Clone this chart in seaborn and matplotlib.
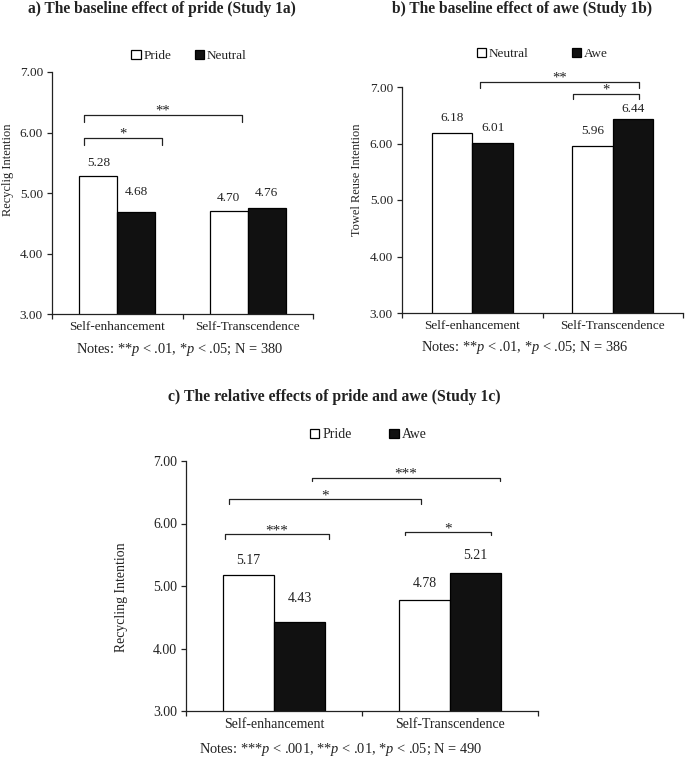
import matplotlib.pyplot as plt
import matplotlib.patches as mpatches
import seaborn as sns
import pandas as pd

categories = ["Self-enhancement", "Self-Transcendence"]

# Study 1a
pride_1a = [5.28, 4.70]
neutral_1a = [4.68, 4.76]
# Study 1b
neutral_1b = [6.18, 5.96]
awe_1b = [6.01, 6.44]
# Study 1c
pride_1c = [5.17, 4.78]
awe_1c = [4.43, 5.21]

yticks = [3, 4, 5, 6, 7]

sns.set_theme(style="ticks")
plt.rcParams["font.family"] = ["Liberation Serif", "DejaVu Serif"]
plt.rcParams["mathtext.fontset"] = "custom"
plt.rcParams["mathtext.rm"] = "Liberation Serif"
plt.rcParams["mathtext.it"] = "Liberation Serif:italic"

INK = "#222222"
W, H = 685, 760
PX = 72 / 100  # points per pixel


def make_df(name1, vals1, name2, vals2):
    rows = []
    for name, vals in [(name1, vals1), (name2, vals2)]:
        for cat, v in zip(categories, vals):
            rows.append({"Group": cat, "Condition": name, "Score": v})
    return pd.DataFrame(rows)


def draw_panel(fig, rect, df, hue_order, offsets, brackets, fs, legend_pos, colspace):
    ax = fig.add_axes(rect)
    sns.barplot(data=df, x="Group", y="Score", hue="Condition", order=categories,
                hue_order=hue_order, palette=["white", "#111111"], edgecolor="black",
                linewidth=0.9, width=0.58, errorbar=None, legend=False, ax=ax)
    ax.set_ylim(3, 7)
    ax.set_xlim(-0.5, 1.5)
    ax.set_yticks(yticks)
    ax.set_yticklabels([f"{v:.2f}" for v in yticks])
    ax.set_xticks([-0.5, 0.5, 1.5])
    ax.set_xticklabels([])
    ax.set_xticks([0, 1], minor=True)
    ax.set_xticklabels(categories, minor=True)
    ax.tick_params(axis="x", which="minor", length=0, pad=5, labelsize=fs, labelcolor=INK)
    ax.tick_params(axis="x", which="major", length=3.5, width=0.9, color=INK)
    ax.tick_params(axis="y", length=3.5, width=0.9, pad=3, labelsize=fs, labelcolor=INK, color=INK)
    ax.set_xlabel("")
    ax.set_ylabel("")
    sns.despine(ax=ax)
    for side in ["left", "bottom"]:
        ax.spines[side].set_linewidth(0.9)
        ax.spines[side].set_color(INK)

    # value labels above bars
    for cont, offs in zip(ax.containers, offsets):
        for bar, off in zip(cont, offs):
            x = bar.get_x() + bar.get_width() / 2
            y = bar.get_height()
            ax.annotate(f"{y:.2f}", (x, y), xytext=(0, off * PX), textcoords="offset points",
                        ha="center", va="center", fontsize=fs, color=INK)

    # significance brackets
    for x1, x2, ytop, drop, stars in brackets:
        ax.plot([x1, x1, x2, x2], [ytop - drop, ytop, ytop, ytop - drop],
                color=INK, lw=0.9, clip_on=False)
        ax.text((x1 + x2) / 2, ytop, stars, ha="center", va="baseline",
                fontsize=fs + 1, color=INK, clip_on=False)

    handles = [mpatches.Patch(facecolor=c, edgecolor="black", linewidth=0.9, label=l)
               for c, l in zip(["white", "#111111"], hue_order)]
    ax.legend(handles=handles, loc="center",
              bbox_to_anchor=(legend_pos[0] / W, 1 - legend_pos[1] / H),
              bbox_transform=fig.transFigure, ncol=2, frameon=False,
              handlelength=0.7, handleheight=0.7, handletextpad=0.2,
              columnspacing=colspace, fontsize=fs, labelcolor=INK,
              borderpad=0, borderaxespad=0)
    return ax


def ftext(fig, x, y, s, **kw):
    fig.text(x / W, 1 - y / H, s, color=INK, ha="center", va="center", **kw)


fig = plt.figure(figsize=(W / 100, H / 100), dpi=100)

# panel a
draw_panel(fig, [52 / W, 1 - 314 / H, 261 / W, 242 / H],
           make_df("Pride", pride_1a, "Neutral", neutral_1a), ["Pride", "Neutral"],
           [[13, 13], [20, 15]],
           [(-0.254, 0.954, 6.29, 0.12, "**"), (-0.254, 0.346, 5.91, 0.12, "*")],
           9.5, (189, 56), 1.8)
ftext(fig, 162, 9, "a) The baseline effect of pride (Study 1a)", fontsize=11.2, fontweight="bold")
ftext(fig, 8, 170, "Recyclig Intention", fontsize=8.9, rotation=90)
ftext(fig, 180, 350, r"Notes: **$p$ < .01, *$p$ < .05; N = 380", fontsize=10.4)

# panel b
draw_panel(fig, [402 / W, 1 - 313 / H, 281 / W, 226 / H],
           make_df("Neutral", neutral_1b, "Awe", awe_1b), ["Neutral", "Awe"],
           [[15, 15], [15, 10]],
           [(0.057, 1.186, 7.09, 0.11, "**"), (0.714, 1.186, 6.88, 0.09, "*")],
           9.5, (542, 54), 3.3)
ftext(fig, 522, 9, "b) The baseline effect of awe (Study 1b)", fontsize=11.2, fontweight="bold")
ftext(fig, 357, 180, "Towel Reuse Intention", fontsize=8.9, rotation=90)
ftext(fig, 525, 348, r"Notes: **$p$ < .01, *$p$ < .05; N = 386", fontsize=10.4)

# panel c
draw_panel(fig, [186 / W, 1 - 711 / H, 352 / W, 250 / H],
           make_df("Pride", pride_1c, "Awe", awe_1c), ["Pride", "Awe"],
           [[15, 16], [23, 17]],
           [(0.216, 1.284, 6.73, 0.05, "***"), (-0.256, 0.835, 6.39, 0.08, "*"),
            (-0.278, 0.313, 5.83, 0.08, "***"), (0.744, 1.233, 5.86, 0.05, "*")],
           10, (368, 435), 2.7)
ftext(fig, 334, 397, "c) The relative effects of pride and awe (Study 1c)", fontsize=11.3, fontweight="bold")
ftext(fig, 122, 597, "Recycling Intention", fontsize=9.9, rotation=90)
ftext(fig, 341, 750, r"Notes: ***$p$ < .001, **$p$ < .01, *$p$ < .05; N = 490", fontsize=10.4)

fig.savefig("out.png", dpi=100, facecolor="white")
